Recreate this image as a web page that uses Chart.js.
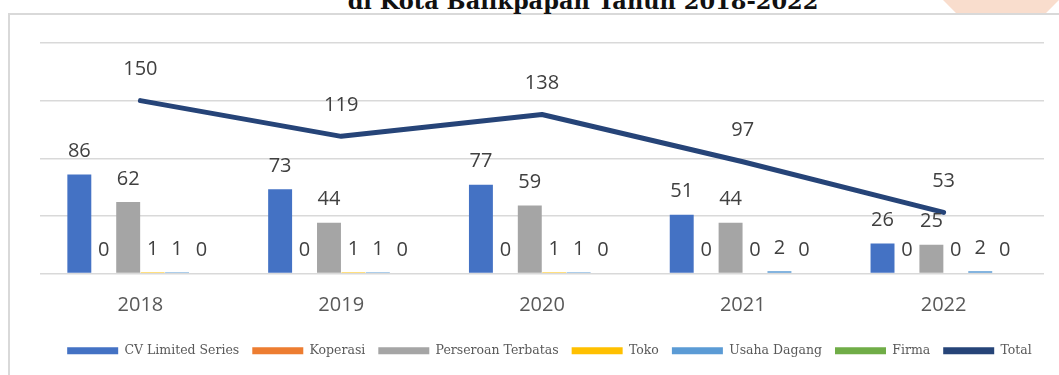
<!DOCTYPE html>
<html>
<head>
<meta charset="utf-8">
<script src="https://cdn.jsdelivr.net/npm/chart.js@4.4.1/dist/chart.umd.min.js"></script>
<style>
  html, body { margin: 0; padding: 0; background: #fff; }
  body { width: 1059px; height: 375px; position: relative; overflow: hidden; }
  #ribbon {
    position: absolute; left: 943px; top: 0; width: 116px; height: 14px;
    background: #f9ddcd;
    clip-path: polygon(0 0, 100% 0, 88% 100%, 12% 100%);
  }
  #frame {
    position: absolute; left: 8px; top: 13px; width: 1080px; height: 420px;
    border-top: 2px solid #d9d9d9; border-left: 2px solid #d9d9d9;
  }
  #title {
    position: absolute; left: 0; top: -12px; width: 1166px;
    text-align: center; line-height: 21px;
    font: bold 22.5px "DejaVu Serif", serif; color: #111;
    white-space: nowrap;
  }
  #chart { position: absolute; left: 0; top: 0; }
</style>
</head>
<body>
<div id="ribbon"></div>
<div id="frame"></div>
<div id="title">di Kota Balikpapan Tahun 2018-2022</div>
<canvas id="chart" width="1059" height="375"></canvas>
<script>
const years = ["2018", "2019", "2020", "2021", "2022"];
const cvLimited = [86, 73, 77, 51, 26];
const koperasi = [0, 0, 0, 0, 0];
const perseroan = [62, 44, 59, 44, 25];
const toko = [1, 1, 1, 0, 0];
const usahaDagang = [1, 1, 1, 2, 2];
const firma = [0, 0, 0, 0, 0];
const total = [150, 119, 138, 97, 53];
const yMax = 200;
const yStep = 50;

// value text above every bar and line point
const valueLabels = {
  id: "valueLabels",
  afterDatasetsDraw(chart) {
    const ctx = chart.ctx;
    ctx.save();
    ctx.font = "20px 'Open Sans'";
    ctx.fillStyle = "#404040";
    ctx.textAlign = "center";
    ctx.textBaseline = "middle";
    chart.data.datasets.forEach((ds, i) => {
      const meta = chart.getDatasetMeta(i);
      const lift = ds.type === "line" ? 31 : 23;
      meta.data.forEach((el, j) => {
        ctx.fillText(String(ds.data[j]), el.x, el.y - lift);
      });
    });
    ctx.restore();
  }
};

function bar(label, data, color) {
  return {
    type: "bar",
    label,
    data,
    backgroundColor: color,
    borderWidth: 0,
    order: 1,
    categoryPercentage: 0.73,
    barPercentage: 0.98
  };
}

new Chart(document.getElementById("chart"), {
  data: {
    labels: years,
    datasets: [
      bar("CV Limited Series", cvLimited, "#4472c4"),
      bar("Koperasi", koperasi, "#ed7d31"),
      bar("Perseroan Terbatas", perseroan, "#a5a5a5"),
      bar("Toko", toko, "#ffc000"),
      bar("Usaha Dagang", usahaDagang, "#5b9bd5"),
      bar("Firma", firma, "#70ad47"),
      {
        type: "line",
        label: "Total",
        data: total,
        borderColor: "#264478",
        backgroundColor: "#264478",
        borderWidth: 5,
        borderCapStyle: "round",
        borderJoinStyle: "round",
        pointRadius: 0,
        tension: 0,
        order: 0
      }
    ]
  },
  options: {
    responsive: false,
    animation: false,
    layout: { padding: { left: 40, right: 0, top: 43, bottom: 8 } },
    plugins: {
      tooltip: { enabled: false },
      legend: {
        position: "bottom",
        labels: {
          boxWidth: 51,
          boxHeight: 7,
          padding: 13,
          color: "#595959",
          font: { family: "'DejaVu Serif'", size: 12.5 },
          sort: (a, b) => a.datasetIndex - b.datasetIndex,
          generateLabels(chart) {
            return Chart.defaults.plugins.legend.labels
              .generateLabels(chart)
              .map((item) => Object.assign(item, { lineWidth: 0 }));
          }
        }
      }
    },
    scales: {
      x: {
        grid: { display: false, drawTicks: false },
        border: { display: false },
        ticks: {
          color: "#595959",
          font: { family: "'Open Sans'", size: 20 },
          padding: 20
        },
        afterFit(scale) {
          scale.height = 58;
        }
      },
      y: {
        position: "right",
        min: 0,
        max: yMax,
        grid: { color: "#d9d9d9", lineWidth: 1.5, drawTicks: false },
        border: { display: false },
        ticks: { display: false, stepSize: yStep },
        afterFit(scale) {
          scale.width = 15;
        }
      }
    }
  },
  plugins: [valueLabels]
});
</script>
</body>
</html>
